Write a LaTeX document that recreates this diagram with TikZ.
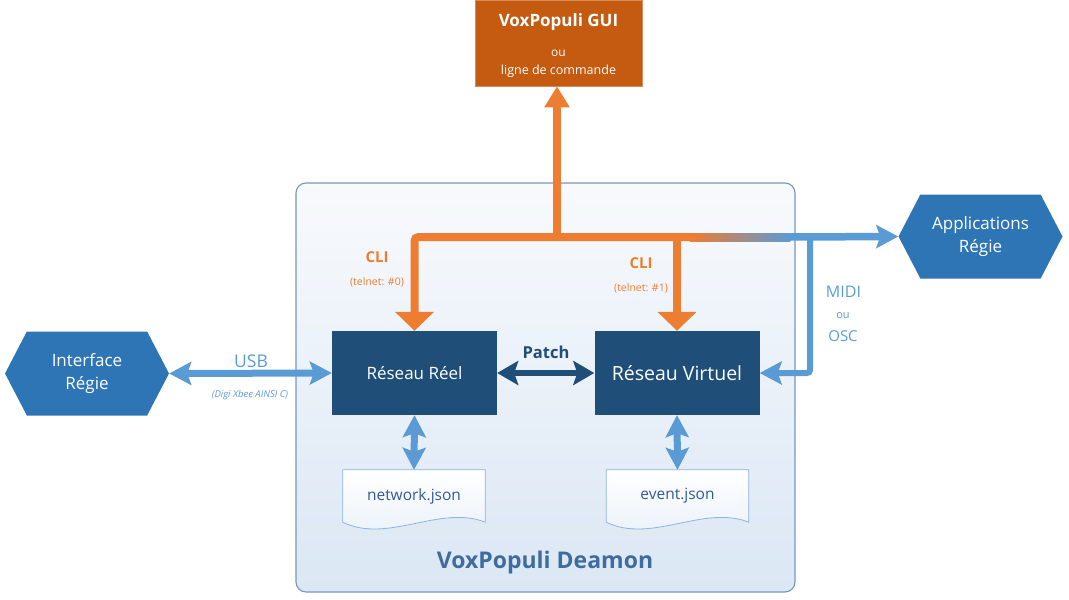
\documentclass[tikz,border=0pt]{standalone}
\usepackage{fontspec}
\setmainfont{Open Sans}
\usetikzlibrary{arrows.meta,positioning,calc,shapes.symbols}
\definecolor{Navy}{RGB}{31,78,121}
\definecolor{Blue}{RGB}{46,117,182}
\definecolor{LightBlue}{RGB}{91,155,213}
\definecolor{Orange}{RGB}{237,125,49}
\definecolor{DarkOrange}{RGB}{197,90,17}
\definecolor{FrameBlue}{RGB}{120,150,190}
\definecolor{PaleTop}{RGB}{248,250,253}
\definecolor{PaleBottom}{RGB}{219,231,244}
\definecolor{DocFill}{RGB}{232,240,249}
\definecolor{DocLine}{RGB}{140,180,222}
\definecolor{DocText}{RGB}{50,90,150}
\definecolor{TitleBlue}{RGB}{62,108,158}
\tikzset{
  daemonframe/.style={draw=FrameBlue,line width=1.1pt,rounded corners=10pt,top color=PaleTop,bottom color=PaleBottom,minimum width=499pt,minimum height=409pt},
  guibox/.style={fill=DarkOrange,draw=DarkOrange!70!white,line width=0.6pt,minimum width=167pt,minimum height=86pt},
  netbox/.style={fill=Navy,text=white,minimum width=165pt,minimum height=84pt,inner sep=0pt},
  hexa/.style={signal,signal to=east and west,signal pointer angle=125,fill=Blue,text=white,align=center,font=\fontsize{17}{22.5}\selectfont,minimum width=164pt,minimum height=84pt,inner sep=0pt},
  docbox/.style={minimum width=142pt,minimum height=52pt,inner sep=0pt,text=DocText,font=\fontsize{15.5}{17}\selectfont},
  docshape/.style={draw=DocLine,line width=0.8pt,top color=white,bottom color=DocFill},
  orangeline/.style={draw=Orange,line width=8pt},
  orangetip/.style={-{Triangle[length=19pt,width=38pt]}},
  blueline/.style={draw=LightBlue,line width=7pt},
  bluetip/.style={-{Stealth[length=22pt,width=23pt,inset=4pt]}},
  bluetips/.style={{Stealth[length=22pt,width=23pt,inset=4pt]}-{Stealth[length=22pt,width=23pt,inset=4pt]}},
  patchline/.style={draw=Navy,line width=6pt,{Stealth[length=21pt,width=24pt,inset=4pt]}-{Stealth[length=21pt,width=24pt,inset=4pt]}},
  clilabel/.style={anchor=base,text=Orange,font=\bfseries\fontsize{15}{17}\selectfont},
  telnetlabel/.style={anchor=base,text=Orange,font=\fontsize{10.5}{12}\selectfont},
  bluelabel/.style={anchor=base,text=LightBlue,font=\fontsize{16}{18}\selectfont},
  smalllabel/.style={anchor=base,text=LightBlue,font=\fontsize{11}{13}\selectfont}
}
\begin{document}
\begin{tikzpicture}[x=1pt,y=-1pt]
\useasboundingbox (0,0) rectangle (1069,600);
% daemon frame
\node[daemonframe] (daemon) at (545.5,387.5) {};
\node[anchor=base,text=TitleBlue,font=\bfseries\fontsize{23}{26}\selectfont] (daemontitle) at (545,568) {VoxPopuli Deamon};
% gui
\node[guibox] (gui) at (558.5,43) {};
\node[anchor=base,text=white,font=\bfseries\fontsize{17}{20}\selectfont] (guititle) at (558.5,26) {VoxPopuli GUI};
\node[anchor=base,text=white,font=\fontsize{12}{14}\selectfont] (guiou) at (558.5,56) {ou};
\node[anchor=base,text=white,font=\fontsize{12.5}{14}\selectfont] (guicmd) at (558.5,74) {ligne de commande};
% networks
\node[netbox,font=\fontsize{17}{20}\selectfont] (reel) at (414.5,373) {Réseau Réel};
\node[netbox,font=\fontsize{19.5}{22}\selectfont] (virt) at (677,373) {Réseau Virtuel};
% hexagons
\node[hexa] (iface) at (87,373.5) {Interface\\Régie};
\node[hexa] (apps) at (980.5,236.5) {Applications\\Régie};
% json files
\node[docbox] (net) at (414,496) {};
\node[docbox] (evt) at (677.5,496) {};
\draw[docshape] (net.north west) -- (net.north east) -- (net.south east)
  .. controls ($(net.south east)+(-45,-18)$) and ($(net.south west)+(45,22)$) .. (net.south west) -- cycle;
\draw[docshape] (evt.north west) -- (evt.north east) -- (evt.south east)
  .. controls ($(evt.south east)+(-45,-18)$) and ($(evt.south west)+(45,22)$) .. (evt.south west) -- cycle;
\node[docbox] (netname) at (net) {network.json};
\node[docbox] (evtname) at (evt) {event.json};
% cli bus
\coordinate (bus) at (557,237);
\coordinate (fadeA) at (690,237);
\coordinate (fadeB) at (790,237);
\coordinate (tap) at (810,237);
\draw[orangeline,-{Triangle[length=21pt,width=24pt]}] (bus) -- (bus |- gui.south);
\draw[orangeline,orangetip,rounded corners=4pt] (fadeA) -- (reel.north |- bus) -- (reel.north);
\draw[orangeline,orangetip] (virt.north |- bus) -- (virt.north);
\shade[left color=Orange,right color=LightBlue] ($(fadeA)+(0,-4)$) rectangle ($(fadeB)+(0,4)$);
\draw[blueline,line width=7.5pt,bluetip] (fadeB) -- (apps.west);
\draw[blueline,line width=6pt,bluetip,rounded corners=3pt] (tap) -- (tap |- virt.east) -- (virt.east);
% links
\draw[blueline,bluetips] (iface.east) -- (reel.west);
\draw[patchline] (reel.east) -- (virt.west);
\draw[blueline,bluetips] (reel.south) -- (net.north);
\draw[blueline,bluetips] (virt.south) -- (evt.north);
% labels
\node[clilabel] (cli0) at (377,262) {CLI};
\node[telnetlabel] (tel0) at (377,285) {(telnet: \#0)};
\node[clilabel] (cli1) at (641,268) {CLI};
\node[telnetlabel] (tel1) at (641,291) {(telnet: \#1)};
\node[anchor=base,text=Navy,font=\bfseries\fontsize{16.5}{18}\selectfont] (patch) at (546,358) {Patch};
\node[bluelabel,font=\fontsize{17.5}{20}\selectfont] (usb) at (251,367) {USB};
\node[smalllabel,font=\itshape\fontsize{9.5}{11}\selectfont] (digi) at (250,397) {(Digi Xbee AINSI C)};
\node[bluelabel] (midi) at (843.5,297) {MIDI};
\node[smalllabel] (midiou) at (843,318) {ou};
\node[bluelabel,font=\fontsize{15}{17}\selectfont] (osc) at (843,341) {OSC};
\end{tikzpicture}
\end{document}
